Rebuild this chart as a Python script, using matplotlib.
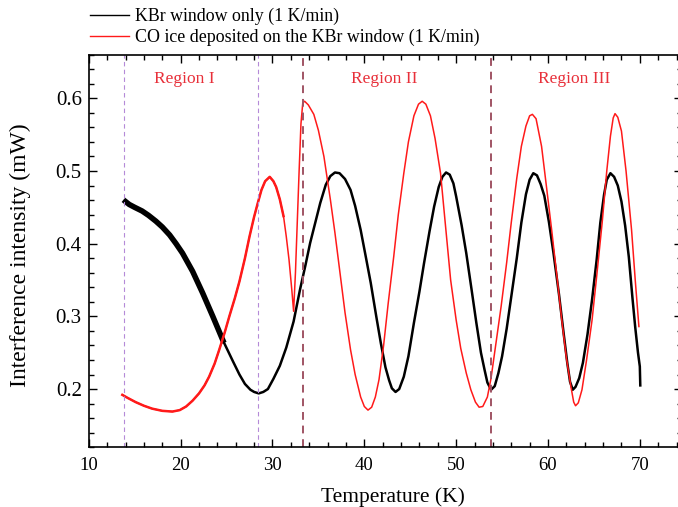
import numpy as np
import matplotlib.pyplot as plt
from matplotlib.ticker import MultipleLocator

# KBr window only (1 K/min)
kbr_T = [14.0, 14.4, 15.0, 15.8, 16.5, 17.3, 18.0, 18.8, 19.5, 20.2, 21.3, 22.4,
         23.5, 24.6, 25.7, 26.4, 27.0, 27.6, 28.0, 28.5, 29.0, 29.5, 30.1, 30.8,
         31.5, 32.3, 33.0, 33.6, 34.1, 34.7, 35.2, 35.8, 36.3, 36.8, 37.3, 37.9,
         38.5, 39.0, 39.6, 40.1, 40.7, 41.3, 41.8, 42.3, 42.7, 43.0, 43.4, 43.8,
         44.3, 44.8, 45.4, 46.0, 46.5, 47.1, 47.6, 48.1, 48.5, 48.9, 49.3, 49.7,
         50.0, 50.6, 51.1, 51.7, 52.2, 52.7, 53.1, 53.4, 53.8, 54.2, 54.6, 55.0,
         55.5, 56.0, 56.6, 57.1, 57.6, 58.0, 58.4, 58.8, 59.2, 59.6, 60.1, 60.6,
         61.2, 61.7, 62.1, 62.4, 62.7, 63.0, 63.4, 63.8, 64.3, 64.8, 65.3, 65.7,
         66.1, 66.4, 66.8, 67.2, 67.6, 68.0, 68.4, 68.8, 69.2, 69.5, 69.8, 70.0,
         70.05]
kbr_I = [0.458, 0.454, 0.450, 0.445, 0.439, 0.431, 0.423, 0.412, 0.400, 0.387, 0.362, 0.332,
         0.300, 0.267, 0.238, 0.220, 0.207, 0.199, 0.196, 0.194, 0.196, 0.200, 0.214, 0.232,
         0.257, 0.293, 0.337, 0.371, 0.401, 0.431, 0.456, 0.481, 0.493, 0.498, 0.497, 0.489,
         0.474, 0.452, 0.419, 0.386, 0.346, 0.300, 0.263, 0.230, 0.212, 0.201, 0.196, 0.200,
         0.217, 0.245, 0.291, 0.334, 0.373, 0.417, 0.451, 0.478, 0.492, 0.498, 0.495, 0.483,
         0.465, 0.425, 0.387, 0.335, 0.291, 0.250, 0.226, 0.209, 0.199, 0.204, 0.222, 0.245,
         0.283, 0.327, 0.380, 0.429, 0.468, 0.488, 0.497, 0.494, 0.482, 0.466, 0.430, 0.387,
         0.330, 0.277, 0.236, 0.210, 0.199, 0.203, 0.215, 0.236, 0.275, 0.323, 0.378, 0.429,
         0.467, 0.488, 0.497, 0.492, 0.480, 0.458, 0.425, 0.382, 0.325, 0.285, 0.250, 0.231,
         0.205]

# CO ice deposited on the KBr window (1 K/min)
co_T = [13.65, 14.2, 15.1, 16.0, 16.9, 18.0, 19.1, 19.9, 20.6, 21.3, 22.0, 22.6,
        23.1, 23.7, 24.2, 24.8, 25.3, 25.9, 26.4, 27.0, 27.5, 28.0, 28.4, 28.8,
        29.2, 29.7, 30.1, 30.4, 30.8, 31.2, 31.5, 31.8, 32.1, 32.3, 32.5, 32.7,
        32.9, 33.1, 33.3, 33.5, 33.9, 34.5, 35.0, 35.6, 36.3, 36.8, 37.4, 37.9,
        38.5, 39.0, 39.6, 40.0, 40.4, 40.8, 41.2, 41.6, 42.1, 42.6, 43.2, 43.7,
        44.3, 44.8, 45.4, 45.9, 46.3, 46.7, 47.2, 47.7, 48.3, 48.8, 49.4, 50.0,
        50.5, 51.1, 51.6, 52.1, 52.5, 52.9, 53.4, 53.8, 54.3, 54.9, 55.5, 56.0,
        56.6, 57.1, 57.6, 58.0, 58.3, 58.7, 59.3, 59.8, 60.4, 61.0, 61.5, 62.0,
        62.5, 62.8, 63.0, 63.3, 63.7, 64.2, 64.8, 65.3, 65.9, 66.4, 66.8, 67.1,
        67.3, 67.6, 68.0, 68.5, 69.1, 69.5, 69.9]
co_I = [0.192, 0.188, 0.182, 0.177, 0.173, 0.170, 0.169, 0.171, 0.176, 0.184, 0.194, 0.205,
        0.217, 0.235, 0.254, 0.278, 0.300, 0.325, 0.348, 0.380, 0.410, 0.437, 0.456, 0.474,
        0.486, 0.492, 0.486, 0.478, 0.461, 0.438, 0.410, 0.378, 0.337, 0.307, 0.360, 0.430,
        0.500, 0.565, 0.594, 0.596, 0.591, 0.578, 0.556, 0.520, 0.461, 0.415, 0.355, 0.305,
        0.254, 0.220, 0.189, 0.176, 0.171, 0.175, 0.189, 0.213, 0.260, 0.318, 0.382, 0.440,
        0.497, 0.540, 0.576, 0.592, 0.596, 0.592, 0.576, 0.545, 0.497, 0.430, 0.350, 0.295,
        0.256, 0.222, 0.199, 0.182, 0.175, 0.176, 0.189, 0.215, 0.260, 0.314, 0.374, 0.429,
        0.490, 0.534, 0.562, 0.576, 0.578, 0.572, 0.534, 0.482, 0.419, 0.352, 0.295, 0.243,
        0.203, 0.182, 0.177, 0.181, 0.199, 0.240, 0.295, 0.355, 0.429, 0.500, 0.548, 0.573,
        0.579, 0.574, 0.555, 0.500, 0.419, 0.350, 0.286]

region_T = [20.4, 42.2, 62.8]
region_labels = ['Region I', 'Region II', 'Region III']
purple_lines = [13.8, 28.4]
red_lines = [33.3, 53.8]

plt.rcParams['font.family'] = ['Liberation Serif', 'DejaVu Serif']

fig = plt.figure(figsize=(6.78, 5.07), dpi=100)
ax = fig.add_axes([0.131, 0.118, 0.875, 0.774])

ax.plot(kbr_T, kbr_I, color='black', lw=1.8, label='KBr window only (1 K/min)')
ax.plot(kbr_T[:14], kbr_I[:14], color='black', lw=4.0)
ax.plot(co_T, co_I, color='#ff1a1a', lw=1.1,
        label='CO ice deposited on the KBr window (1 K/min)')
ax.plot(co_T[:30], co_I[:30], color='#ff1a1a', lw=1.8)

for t in purple_lines:
    ax.axvline(t, color='#b58ad8', lw=0.8, ls=(0, (4, 3)))
for t in red_lines:
    ax.axvline(t, color='#a05464', lw=1.4, ls=(0, (4, 3)))

for t, lab in zip(region_T, region_labels):
    ax.text(t, 0.627, lab, color='#e8303a', fontsize=12.5, ha='center', va='center')

ax.set_xlim(10, 74.6)
ax.set_ylim(0.12, 0.66)
ax.xaxis.set_major_locator(MultipleLocator(10))
ax.xaxis.set_minor_locator(MultipleLocator(2))
ax.yaxis.set_major_locator(MultipleLocator(0.1))
ax.yaxis.set_minor_locator(MultipleLocator(0.02))
ax.tick_params(which='both', direction='in', top=True, right=True, width=1.0)
ax.tick_params(axis='x', labelsize=13.5, pad=7)
ax.tick_params(axis='y', labelsize=15, pad=5)
ax.tick_params(which='major', length=6)
ax.tick_params(which='minor', length=3.5)
for s in ax.spines.values():
    s.set_linewidth(1.2)

ax.set_xlabel('Temperature (K)', fontsize=15.5)
ax.set_ylabel('Interference intensity (mW)', fontsize=17)
ax.xaxis.set_label_coords(0.513, -0.102)
ax.yaxis.set_label_coords(-0.097, 0.49)

# thin legend handles, as in the original
leg = ax.legend(loc='lower left', bbox_to_anchor=(-0.016, 0.995), frameon=False, fontsize=12.9,
                handlelength=2.2, handletextpad=0.3, labelspacing=0.2, borderpad=0.1)
for h in leg.get_lines():
    h.set_linewidth(1.0)

plt.savefig('out.png', dpi=100)
